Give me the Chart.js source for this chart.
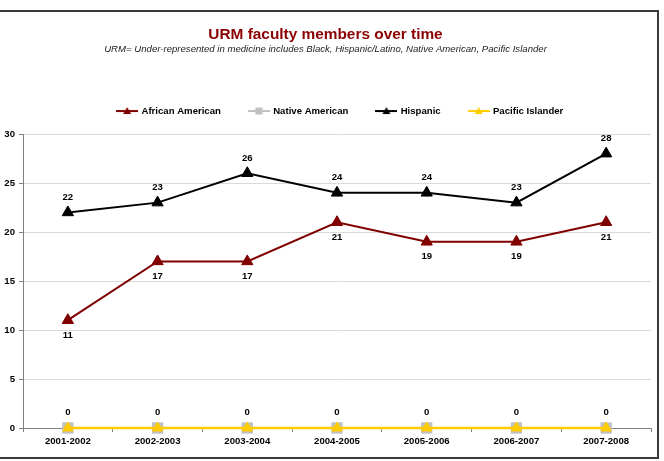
<!DOCTYPE html>
<html>
<head>
<meta charset="utf-8">
<script src="https://cdn.jsdelivr.net/npm/chart.js@4/dist/chart.umd.min.js"></script>
<style>
  html, body { margin: 0; padding: 0; background: #fff; }
  #wrap { position: relative; width: 664px; height: 461px; }
</style>
</head>
<body>
<div id="wrap"><canvas id="urm-chart" width="664" height="461"></canvas></div>
<script>
const years = ["2001-2002", "2002-2003", "2003-2004", "2004-2005", "2005-2006", "2006-2007", "2007-2008"];
const africanAmerican = [11, 17, 17, 21, 19, 19, 21];
const nativeAmerican = [0, 0, 0, 0, 0, 0, 0];
const hispanic = [22, 23, 26, 24, 24, 23, 28];
const pacificIslander = [0, 0, 0, 0, 0, 0, 0];
const yTicks = [0, 5, 10, 15, 20, 25, 30];

const FONT = "'Liberation Sans', Arial, sans-serif";

// small canvas used as legend marker: line with marker in the middle
function legendIcon(color, shape, fill) {
    const c = document.createElement("canvas");
    c.width = 22;
    c.height = 10;
    const ctx = c.getContext("2d");
    ctx.strokeStyle = color;
    ctx.lineWidth = 2;
    ctx.beginPath();
    ctx.moveTo(0, 5);
    ctx.lineTo(22, 5);
    ctx.stroke();
    ctx.fillStyle = fill;
    if (shape === "rect") {
        ctx.fillRect(7.5, 1.5, 7, 7);
    } else {
        ctx.beginPath();
        ctx.moveTo(11, 1);
        ctx.lineTo(15, 8);
        ctx.lineTo(7, 8);
        ctx.closePath();
        ctx.fill();
    }
    return c;
}

const icons = [
    legendIcon("#800000", "tri", "#800000"),
    legendIcon("#C0C0C0", "rect", "#C0C0C0"),
    legendIcon("#000000", "tri", "#000000"),
    legendIcon("#FFCC00", "tri", "#FFCC00")
];

const pointLabels = {
    id: "pointLabels",
    afterDatasetsDraw(chart) {
        const ctx = chart.ctx;
        ctx.save();
        ctx.font = "bold 9.6px " + FONT;
        ctx.fillStyle = "#000";
        ctx.textAlign = "center";
        ctx.textBaseline = "middle";
        chart.data.datasets.forEach((ds, i) => {
            if (!ds.labelOffset) return;
            const meta = chart.getDatasetMeta(i);
            meta.data.forEach((pt, j) => {
                ctx.fillText(String(ds.data[j]), pt.x, pt.y + ds.labelOffset);
            });
        });
        ctx.restore();
    }
};

const frame = {
    id: "frame",
    beforeInit(chart) {
        const fit = chart.legend.fit;
        chart.legend.fit = function() {
            fit.bind(chart.legend)();
            this.height += 8.2;
        };
    },
    afterLayout(chart) {
        // legend sits a bit right of centre in the original
        chart.legend.left += 15;
        chart.legend.right += 15;
    },
    afterDraw(chart) {
        const ctx = chart.ctx;
        ctx.save();
        ctx.strokeStyle = "#3a3a3a";
        ctx.lineWidth = 2;
        ctx.strokeRect(-2, 11, 660, 447);
        ctx.restore();
    }
};

const ctx = document.getElementById("urm-chart").getContext("2d");

new Chart(ctx, {
    type: "line",
    data: {
        labels: years,
        datasets: [{
            label: "African American",
            data: africanAmerican,
            borderColor: "#800000",
            backgroundColor: "#800000",
            borderWidth: 2,
            pointStyle: "triangle",
            pointRadius: 6.5,
            pointBorderWidth: 1,
            labelOffset: 15,
            order: 1,
            clip: false
        }, {
            label: "Native American",
            data: nativeAmerican,
            borderColor: "#C0C0C0",
            backgroundColor: "#C0C0C0",
            borderWidth: 2,
            pointStyle: "rect",
            pointRadius: 8,
            pointBorderWidth: 0,
            labelOffset: -16,
            order: 1,
            clip: false
        }, {
            label: "Hispanic",
            data: hispanic,
            borderColor: "#000000",
            backgroundColor: "#000000",
            borderWidth: 2,
            pointStyle: "triangle",
            pointRadius: 6.5,
            pointBorderWidth: 1,
            labelOffset: -15,
            order: 1,
            clip: false
        }, {
            label: "Pacific Islander",
            data: pacificIslander,
            borderColor: "#FFCC00",
            backgroundColor: "#FFCC00",
            borderWidth: 2.5,
            pointStyle: "triangle",
            pointRadius: 6,
            pointBorderWidth: 1,
            order: 0,
            clip: false
        }]
    },
    options: {
        responsive: false,
        animation: false,
        layout: { padding: { left: 0, right: 13, top: 0, bottom: 0 } },
        plugins: {
            title: {
                display: true,
                text: "URM faculty members over time",
                color: "#8B0000",
                font: { family: FONT, size: 15.4, weight: "bold" },
                padding: { top: 25.75, bottom: 0 }
            },
            subtitle: {
                display: true,
                text: "URM= Under-represented in medicine includes Black, Hispanic/Latino, Native American, Pacific Islander",
                color: "#222",
                font: { family: FONT, size: 9.6, style: "italic", lineHeight: 1 },
                padding: { top: 0.3, bottom: 23.6 }
            },
            legend: {
                position: "top",
                labels: {
                    usePointStyle: true,
                    pointStyleWidth: 19,
                    padding: 28.5,
                    color: "#000",
                    font: { family: FONT, size: 9.6, weight: "bold" },
                    sort: (a, b) => a.datasetIndex - b.datasetIndex,
                    generateLabels(chart) {
                        const items = Chart.defaults.plugins.legend.labels.generateLabels(chart);
                        items.forEach(it => { it.pointStyle = icons[it.datasetIndex]; });
                        return items;
                    }
                }
            },
            tooltip: { enabled: false }
        },
        scales: {
            x: {
                offset: true,
                afterFit(scale) { scale.height = 33; },
                grid: {
                    offset: true,
                    drawOnChartArea: false,
                    tickLength: 4,
                    tickColor: "#808080"
                },
                border: { color: "#808080", width: 1 },
                ticks: {
                    color: "#000",
                    padding: 4,
                    maxRotation: 0,
                    font: { family: FONT, size: 9.6, weight: "bold" }
                }
            },
            y: {
                min: 0,
                max: 30,
                afterFit(scale) { scale.width = 23; },
                afterBuildTicks(scale) { scale.ticks = yTicks.map(v => ({ value: v })); },
                grid: {
                    color: "#D9D9D9",
                    tickLength: 4,
                    tickColor: "#808080"
                },
                border: { color: "#808080", width: 1 },
                ticks: {
                    color: "#000",
                    padding: 4,
                    font: { family: FONT, size: 9.6, weight: "bold" }
                }
            }
        }
    },
    plugins: [pointLabels, frame]
});
</script>
</body>
</html>
